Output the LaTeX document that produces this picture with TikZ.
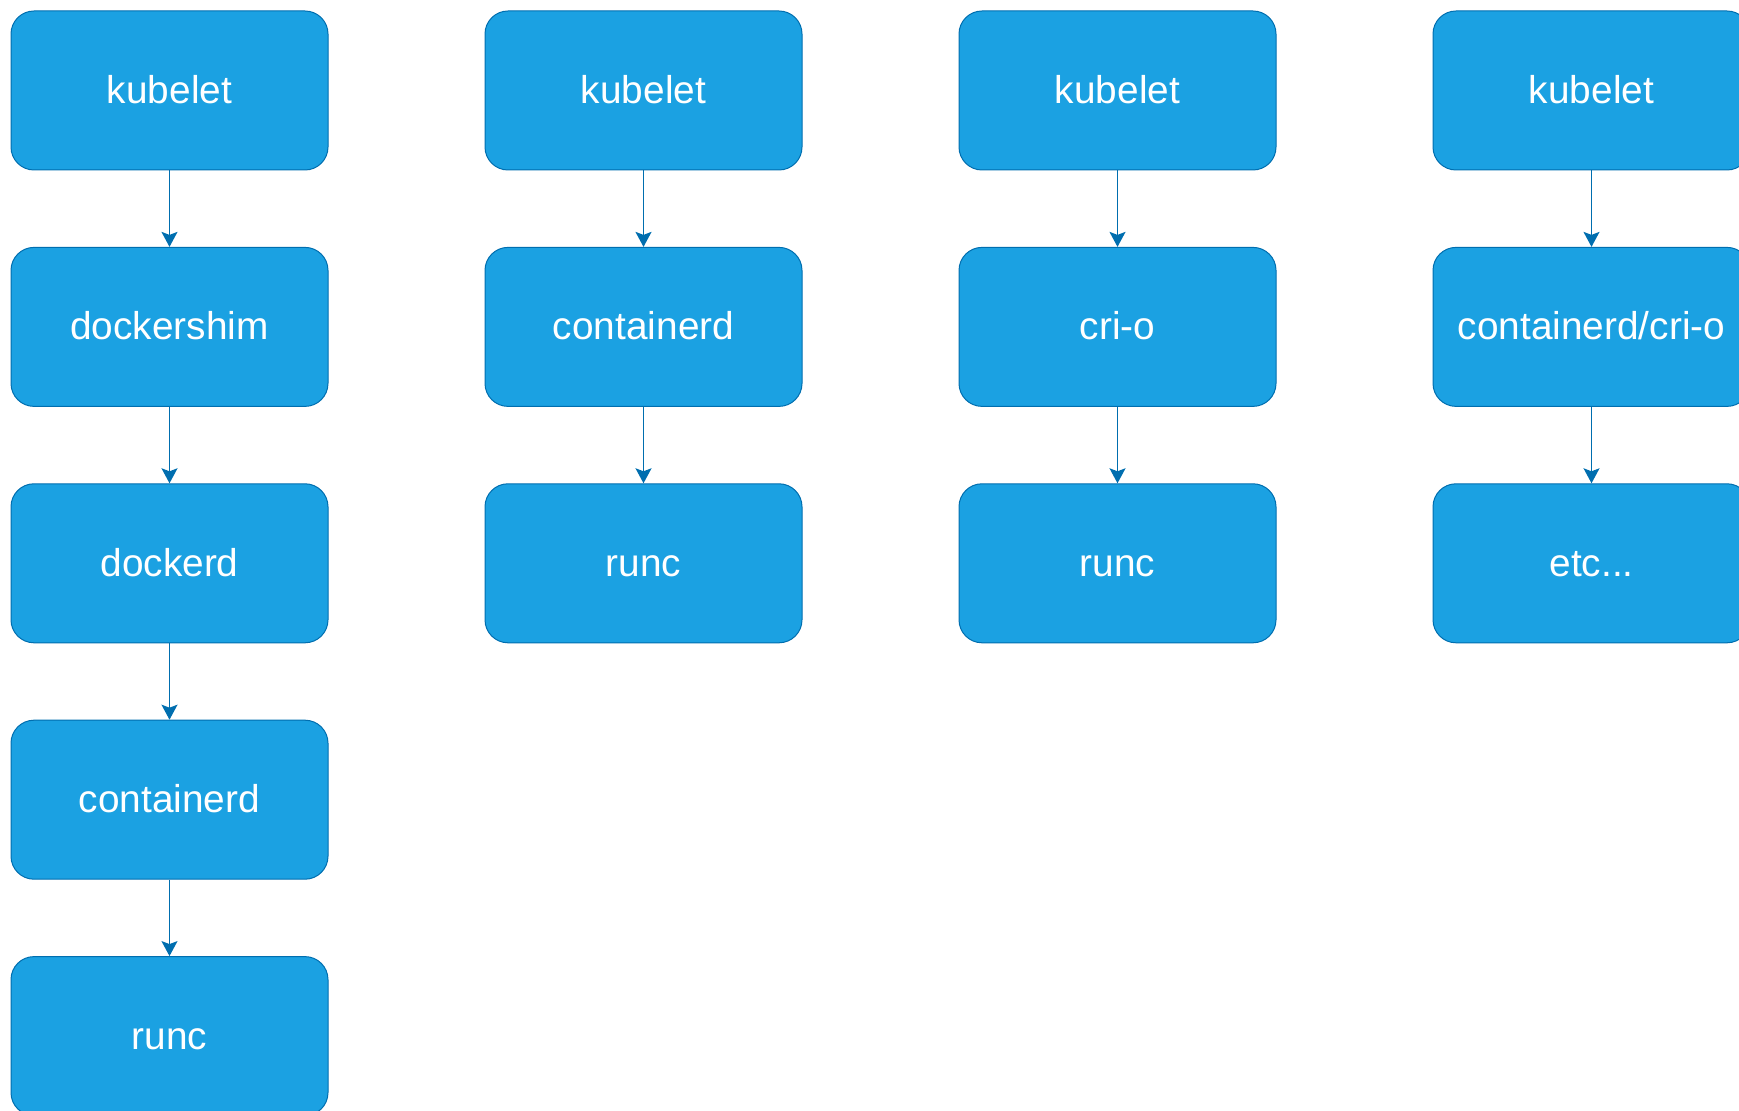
\documentclass[tikz,border=0pt]{standalone}
\usepackage{fontspec}
\setmainfont{Liberation Sans}
\usepackage{xcolor}
\usepackage{tikz}
\usetikzlibrary{positioning, arrows.meta}
\definecolor{boxfill}{HTML}{1BA1E2}
\definecolor{boxline}{HTML}{006EAF}
\tikzset{
  blk/.style={rectangle, draw=boxline, line width=0.5pt, rounded corners=11.5pt,
              fill=boxfill, text=white, align=center, inner sep=0pt,
              minimum width=158.5pt, minimum height=79.5pt,
              text height=14pt, text depth=1pt,
              font=\fontsize{19.4}{23}\selectfont},
  arr/.style={-{Stealth[length=7.5pt, width=8pt, inset=1.5pt]}, line width=0.8pt, draw=boxline},
}

\begin{document}
\begin{tikzpicture}[x=0.5pt, y=-0.5pt, node distance=38.2pt]
  \useasboundingbox (0,0) rectangle (1739,1111);
  % docker
  \node[blk] at (169.5,90.5) (k1) {kubelet};
  \node[blk, below=of k1] (s1) {dockershim};
  \node[blk, below=of s1] (d1) {dockerd};
  \node[blk, below=of d1] (c1) {containerd};
  \node[blk, below=of c1] (r1) {runc};
  % containerd
  \node[blk, right=78pt of k1] (k2) {kubelet};
  \node[blk, below=of k2] (c2) {containerd};
  \node[blk, below=of c2] (r2) {runc};
  % cri-o
  \node[blk, right=78pt of k2] (k3) {kubelet};
  \node[blk, below=of k3] (o3) {cri-o};
  \node[blk, below=of o3] (r3) {runc};
  % generic
  \node[blk, right=78pt of k3] (k4) {kubelet};
  \node[blk, below=of k4] (c4) {containerd/cri-o};
  \node[blk, below=of c4] (e4) {etc...};
  \draw[arr] (k1)--(s1); \draw[arr] (s1)--(d1); \draw[arr] (d1)--(c1); \draw[arr] (c1)--(r1);
  \draw[arr] (k2)--(c2); \draw[arr] (c2)--(r2);
  \draw[arr] (k3)--(o3); \draw[arr] (o3)--(r3);
  \draw[arr] (k4)--(c4); \draw[arr] (c4)--(e4);
\end{tikzpicture}
\end{document}
